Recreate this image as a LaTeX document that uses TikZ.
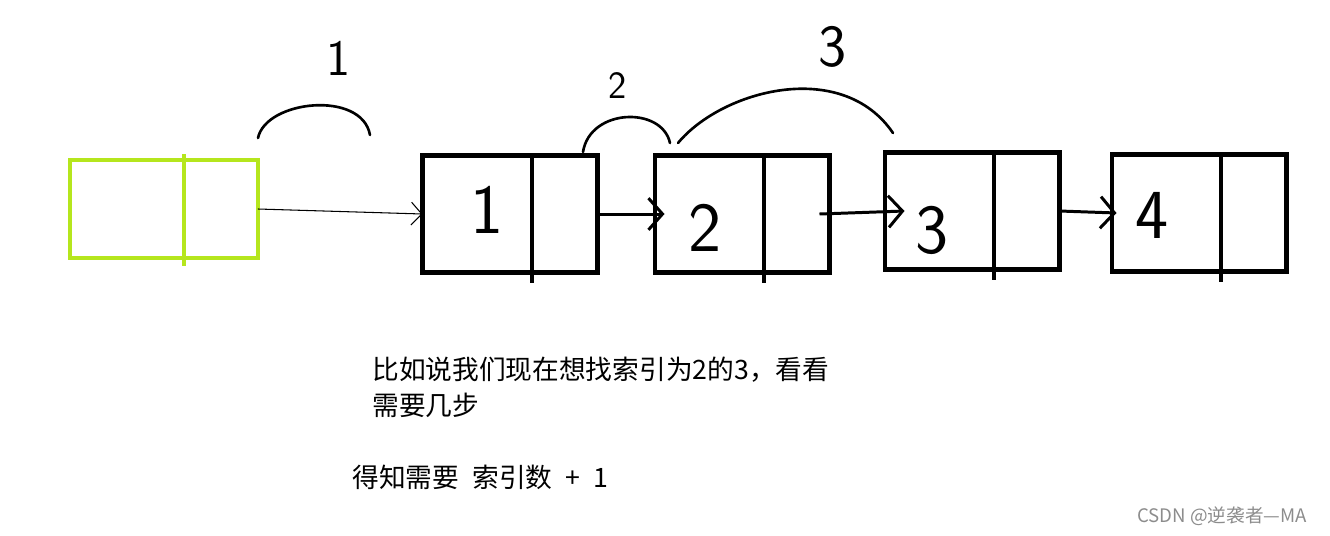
\documentclass[tikz,border=0pt]{standalone}
\usepackage{fontspec}
\setmainfont{Liberation Sans}
\newfontfamily\cjk{Noto Sans CJK SC}
\usepackage{xcolor}
\usetikzlibrary{arrows.meta}
\definecolor{paintlime}{RGB}{181,230,29}

\begin{document}
\begin{tikzpicture}[x=0.02cm,y=-0.02cm,>={Straight Barb[length=8pt,width=18pt]},
  cell/.style={draw,line width=2.3pt,inner sep=0pt,outer sep=0pt,minimum width=3.5cm,minimum height=2.34cm},
  digit/.style={font=\sffamily\fontsize{40}{40}\selectfont},
  link/.style={->,line width=1.7pt},
  hop/.style={line width=1.5pt,line cap=round}]
\useasboundingbox (0,0) rectangle (1330,535);
% head cell
\node[cell,draw=paintlime,minimum width=3.76cm,minimum height=1.96cm] (head) at (164,209) {};
\draw[paintlime,line width=2.3pt] (head.north west) ++(114,-6) -- ++(0,112);
% list cells
\foreach \i/\cx/\cy/\dx/\dy in {1/510/214/-23/-4,2/742/214/-37/14,3/972/211/-40/19,4/1199/213/-47/2}{
  \draw[line width=2.3pt] (\cx,\cy) ++(-87,-59) ++(109,0) -- ++(0,128);
  \node[cell] (n\i) at (\cx,\cy) {};
  \node[digit] (d\i) at (\cx+\dx,\cy+\dy) {\i};}
% links
\draw[-{Straight Barb[length=6pt,width=13pt]},line width=0.6pt] (head.east) -- (n1.west);
\draw[link] (n1.east) -- ([xshift=0.2cm]n2.west);
\draw[link] ([xshift=-0.2cm]n2.east) -- ([xshift=0.4cm]n3.west);
\draw[link] (n3.east) -- ([xshift=0.1cm]n4.west);
% step counts
\node[font=\sffamily\fontsize{29}{29}\selectfont] (s1) at (338,58) {1};
\node[font=\sffamily\fontsize{22}{22}\selectfont] (s2) at (618,86) {2};
\node[font=\sffamily\fontsize{34}{34}\selectfont] (s3) at (833,47) {3};
\draw[hop] (258,138) .. controls (266,100) and (362,90) .. (370,135);
\draw[hop] (583,152) .. controls (590,108) and (662,106) .. (670,143);
\draw[hop] (678,143) .. controls (722,90) and (842,58) .. (893,133);
% notes
\node[anchor=north west,align=left,font=\cjk\fontsize{15.2}{20}\selectfont,inner sep=0pt] (note) at (372,357) {比如说我们现在想找索引为2的3，看看\\需要几步};
\node[anchor=west,font=\cjk\fontsize{15.2}{20}\selectfont,inner sep=0pt] (result) at (352,477) {得知需要\hspace{7.5pt}索引数\hspace{7.5pt}+\hspace{7.5pt}1};
\node[anchor=west,font=\cjk\fontsize{10.6}{12}\selectfont,text=black!45,inner sep=0pt] (mark) at (1137,516) {CSDN @逆袭者—MA};
\end{tikzpicture}
\end{document}
